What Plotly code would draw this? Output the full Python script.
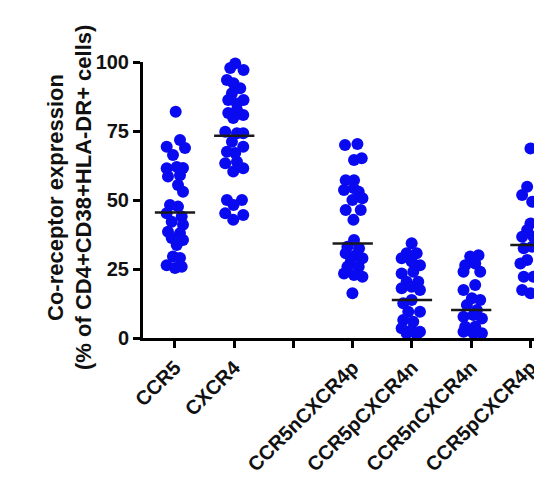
import plotly.graph_objects as go

# ---- data ----
categories = ["CCR5", "CXCR4", "", "CCR5nCXCR4p", "CCR5pCXCR4n", "CCR5nCXCR4n", "CCR5pCXCR4p"]

ccr5_vals = [82.0, 69.3, 71.7, 68.8, 66.3, 61.5, 62.0, 61.6, 58.5, 59.0, 55.4, 53.0, 48.2, 47.6,
             45.2, 44.0, 42.1, 41.0, 38.5, 38.0, 36.2, 35.5, 33.7, 29.5, 29.0, 26.4, 25.8, 25.4]
ccr5_jit = [0.7, -8.3, 5, 10, -2, -8.3, 1.7, 8, -7, 5, 3, 8, -5, 3,
            -8.3, 6.7, -3.3, 8, -7, 5, -3.3, 8, 1.7, -2, 5, -8.3, 6.7, 0]

cxcr4_vals = [99.5, 97.1, 97.8, 93.5, 92.3, 90.5, 88.7, 86.2, 86.2, 85.0, 81.5, 82.6, 80.8, 79.7,
              74.7, 74.2, 74.2, 71.1, 69.3, 67.5, 67.0, 63.3, 63.9, 61.5, 60.3, 50.0, 50.0, 48.2,
              45.2, 44.6, 42.8]
cxcr4_jit = [1, 9.3, -4, -7.3, -0.7, 6, -2.3, 9.3, -6, 2.7, -6, 2.7, 9, -1,
             -9, 2.7, 9, -2.3, 9, -7.3, 1, -9, 2.7, 9, -1, -7.3, 7.7, -0.7,
             -9, 9, -1]

r5n_x4p_vals = [69.9, 70.3, 64.5, 65.1, 57.2, 57.2, 53.6, 54.3, 53.0, 50.6, 50.0, 46.4, 46.4, 42.8,
                35.5, 33.1, 32.5, 30.7, 30.0, 28.9, 27.6, 25.8, 25.8, 23.4, 22.8, 22.2, 16.2]
r5n_x4p_jit = [-7.7, 4.7, 1.3, 9, -7, 1.3, -8.7, 1, 6, 9.7, -0.3, -7, 8, 0.7,
               1.3, -5.3, 6.3, -7, 3, 9.7, -2, -5.3, 6, -8.7, 1.3, 9.7, -0.3]

r5p_x4n_vals = [34.3, 30.7, 30.7, 28.9, 27.7, 26.4, 23.4, 24.0, 20.4, 20.4, 18.0, 18.6, 17.4, 13.8,
                12.6, 9.5, 9.5, 6.5, 5.9, 3.5, 2.9, 2.3, 1.7, 1.4]
r5p_x4n_jit = [-0.3, -5.3, 4.7, -10.3, -0.3, 8, -10.3, 1.3, -5.3, 6.3, -10.3, -0.3, 8, -0.3,
               -8.7, -3.7, 8, -8.7, 1.3, -10.3, -0.3, 8, -5.3, 4.7]

r5n_x4n_vals = [30.0, 29.5, 26.4, 27.0, 24.0, 24.0, 19.2, 17.4, 14.4, 13.8, 12.0, 10.1, 7.7, 8.3,
                7.1, 4.1, 4.1, 2.3, 1.7, 1.7]
r5n_x4n_jit = [7.3, -1, -6, 4, -7.7, 9, 4, -7.7, 0.7, 9, -4.3, 5.7, -7.7, 2.3,
               10.7, -6, 4, -7.7, 2.3, 10.7]

r5p_x4p_vals = [68.7, 54.8, 51.8, 49.4, 41.5, 39.1, 36.7, 36.7, 32.5, 33.1, 28.3, 27.0, 22.2, 22.2,
                17.4, 16.2, 52.0, 45.0, 38.0, 30.0, 25.0, 19.0]
r5p_x4p_jit = [0, -3.3, -8.3, 1.7, 0, -3.3, -8.3, 3, -6.7, 1.7, -3.3, -10, -6.7, 3,
               -8.3, 0, 8, 8, 8, 8, 8, 8]

medians = [45.5, 73.3, 34.2, 13.8, 10.1, 33.7]

y_ticks = [0, 25, 50, 75, 100]
title_lines = ["Co-receptor expression", "(% of CD4+CD38+HLA-DR+ cells)"]

groups = [
    (0, ccr5_vals, ccr5_jit),
    (1, cxcr4_vals, cxcr4_jit),
    (3, r5n_x4p_vals, r5n_x4p_jit),
    (4, r5p_x4n_vals, r5p_x4n_jit),
    (5, r5n_x4n_vals, r5n_x4n_jit),
    (6, r5p_x4p_vals, r5p_x4p_jit),
]

W, H = 534, 481
ML, MR, MT, MB = 143, 0, 62, 143
PX_PER_CAT = 59.2
HALF_LINE = 0.34

fig = go.Figure()
for (pos, vals, jit), med in zip(groups, medians):
    fig.add_trace(go.Scatter(
        x=[pos + j / PX_PER_CAT for j in jit], y=vals, mode="markers",
        marker=dict(size=12, color="#0a0af0", line=dict(width=0)),
        cliponaxis=False, showlegend=False, hoverinfo="y"))
    fig.add_trace(go.Scatter(
        x=[pos - HALF_LINE, pos + HALF_LINE], y=[med, med], mode="lines",
        line=dict(color="#1a1a1a", width=2.5), cliponaxis=False,
        showlegend=False, hoverinfo="skip"))

font_family = "Liberation Sans, Arial, sans-serif"
plot_w = W - ML - MR
plot_h = H - MT - MB

# two-line rotated y title as annotations (controls line spacing)
title_x_px = [55, 83]
title_y_px = 198
for txt, xpx in zip(title_lines, title_x_px):
    fig.add_annotation(
        text=f"<b>{txt}</b>", textangle=-90, showarrow=False,
        xref="paper", yref="paper",
        x=(xpx - ML) / plot_w, y=(H - MB - title_y_px) / plot_h,
        xanchor="center", yanchor="middle",
        font=dict(size=22, family=font_family, color="#111"))

fig.update_layout(
    width=W, height=H,
    margin=dict(l=ML, r=MR, t=MT, b=MB, autoexpand=False),
    paper_bgcolor="white", plot_bgcolor="white",
    font=dict(family=font_family, color="black"),
    xaxis=dict(
        range=[-0.54, 6.06], tickmode="array", automargin=False,
        tickvals=list(range(len(categories))),
        ticktext=[f"<b>{c}</b>" if c else "" for c in categories],
        tickangle=-45, tickfont=dict(size=20, family=font_family, color="#111"),
        ticklabeloverflow="allow",
        showline=True, linecolor="black", linewidth=3,
        ticks="outside", ticklen=7, tickwidth=3, tickcolor="black",
        showgrid=False, zeroline=False, fixedrange=True),
    yaxis=dict(
        range=[0, 100], tickmode="array", tickvals=y_ticks, automargin=False,
        ticktext=[f"<b>{t}</b>" for t in y_ticks],
        tickfont=dict(size=20, family=font_family, color="#111"),
        ticklabeloverflow="allow",
        showline=True, linecolor="black", linewidth=3,
        ticks="outside", ticklen=7, tickwidth=3, tickcolor="black",
        showgrid=False, zeroline=False, fixedrange=True),
)

fig.write_html("out.html", config={"displayModeBar": False},
               post_script="document.body.style.margin='0';")
